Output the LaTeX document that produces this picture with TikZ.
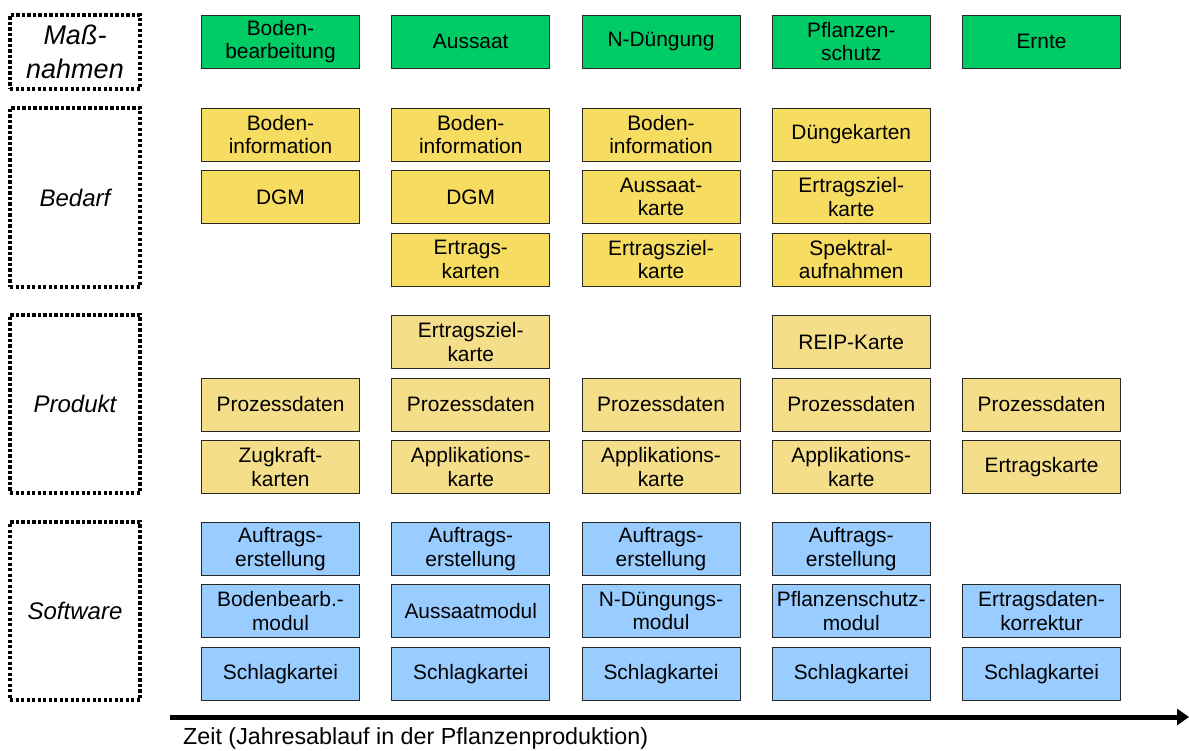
\documentclass[tikz,border=0pt]{standalone}
\usepackage{fontspec}
\setmainfont{Liberation Sans}
\usetikzlibrary{arrows.meta}

\definecolor{massgreen}{RGB}{0,204,102}
\definecolor{needyellow}{RGB}{246,220,96}
\definecolor{prodyellow}{RGB}{245,222,138}
\definecolor{softblue}{RGB}{153,204,255}
\definecolor{boxline}{RGB}{40,40,40}

\tikzset{
  cell/.style={draw=boxline, line width=0.9pt, rectangle, inner sep=0pt,
    minimum width=158pt, minimum height=53pt, align=center,
    font=\fontsize{20.9}{23.5}\selectfont},
  mcell/.style={cell, fill=massgreen},
  bcell/.style={cell, fill=needyellow},
  pcell/.style={cell, fill=prodyellow},
  scell/.style={cell, fill=softblue},
  phase/.style={draw=black, line width=3.4pt, dash pattern=on 3.2pt off 2.3pt,
    rectangle, inner sep=0pt, minimum width=130pt, align=center},
  timeline/.style={line width=5pt, -{Triangle[length=12pt,width=16pt]}}
}

\begin{document}
\begin{tikzpicture}[x=1pt, y=-1pt]
\useasboundingbox (0,0) rectangle (1189,751);

% phase labels on the left
\node[phase, minimum height=74pt, font=\fontsize{27}{34}\selectfont\itshape] (lm) at (75,52) {Maß-\\nahmen};
\node[phase, minimum height=179pt, font=\fontsize{24}{28}\selectfont\itshape] (lb) at (75,197.5) {Bedarf};
\node[phase, minimum height=178pt, font=\fontsize{24}{28}\selectfont\itshape] (lp) at (75,404) {Produkt};
\node[phase, minimum height=178pt, font=\fontsize{24}{28}\selectfont\itshape] (ls) at (75,611) {Software};

% Maßnahmen
\node[mcell] (m1) at (280.5,41.5) {Boden-\\bearbeitung};
\node[mcell] (m2) at (470.75,41.5) {Aussaat};
\node[mcell] (m3) at (661,41.5) {N-Düngung};
\node[mcell] (m4) at (851.25,41.5) {Pflanzen-\\schutz};
\node[mcell] (m5) at (1041.5,41.5) {Ernte};

% Bedarf
\node[bcell] (b11) at (280.5,134.5) {Boden-\\information};
\node[bcell] (b12) at (280.5,197) {DGM};
\node[bcell] (b21) at (470.75,134.5) {Boden-\\information};
\node[bcell] (b22) at (470.75,197) {DGM};
\node[bcell] (b23) at (470.75,259.5) {Ertrags-\\karten};
\node[bcell] (b31) at (661,134.5) {Boden-\\information};
\node[bcell] (b32) at (661,197) {Aussaat-\\karte};
\node[bcell] (b33) at (661,259.5) {Ertragsziel-\\karte};
\node[bcell] (b41) at (851.25,134.5) {Düngekarten};
\node[bcell] (b42) at (851.25,197) {Ertragsziel-\\karte};
\node[bcell] (b43) at (851.25,259.5) {Spektral-\\aufnahmen};

% Produkt
\node[pcell] (p12) at (280.5,404.5) {Prozessdaten};
\node[pcell] (p13) at (280.5,467) {Zugkraft-\\karten};
\node[pcell] (p21) at (470.75,342) {Ertragsziel-\\karte};
\node[pcell] (p22) at (470.75,404.5) {Prozessdaten};
\node[pcell] (p23) at (470.75,467) {Applikations-\\karte};
\node[pcell] (p32) at (661,404.5) {Prozessdaten};
\node[pcell] (p33) at (661,467) {Applikations-\\karte};
\node[pcell] (p41) at (851.25,342) {REIP-Karte};
\node[pcell] (p42) at (851.25,404.5) {Prozessdaten};
\node[pcell] (p43) at (851.25,467) {Applikations-\\karte};
\node[pcell] (p52) at (1041.5,404.5) {Prozessdaten};
\node[pcell] (p53) at (1041.5,467) {Ertragskarte};

% Software
\node[scell] (s11) at (280.5,549) {Auftrags-\\erstellung};
\node[scell] (s12) at (280.5,611) {Bodenbearb.-\\modul};
\node[scell] (s13) at (280.5,674) {Schlagkartei};
\node[scell] (s21) at (470.75,549) {Auftrags-\\erstellung};
\node[scell] (s22) at (470.75,611) {Aussaatmodul};
\node[scell] (s23) at (470.75,674) {Schlagkartei};
\node[scell] (s31) at (661,549) {Auftrags-\\erstellung};
\node[scell] (s32) at (661,611) {N-Düngungs-\\modul};
\node[scell] (s33) at (661,674) {Schlagkartei};
\node[scell] (s41) at (851.25,549) {Auftrags-\\erstellung};
\node[scell] (s42) at (851.25,611) {Pflanzenschutz-\\modul};
\node[scell] (s43) at (851.25,674) {Schlagkartei};
\node[scell] (s52) at (1041.5,611) {Ertragsdaten-\\korrektur};
\node[scell] (s53) at (1041.5,674) {Schlagkartei};

% time axis
\coordinate (tstart) at (170,717);
\coordinate (tend) at (1189,717);
\draw[timeline] (tstart) -- (tend);
\node[font=\fontsize{23.3}{28}\selectfont, anchor=west, inner sep=0pt] (tlabel) at (183,738) {Zeit (Jahresablauf in der Pflanzenproduktion)};
\end{tikzpicture}
\end{document}
